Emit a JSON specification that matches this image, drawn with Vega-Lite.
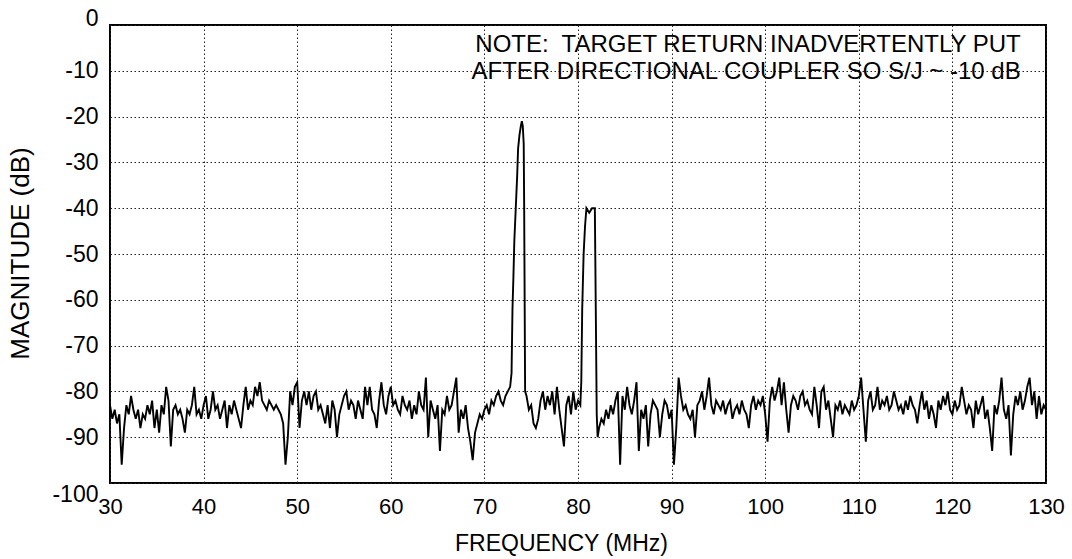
{
  "$schema": "https://vega.github.io/schema/vega-lite/v6.json",
  "width": 936,
  "height": 458,
  "autosize": {"type": "none"},
  "padding": {"left": 110, "top": 25, "right": 26, "bottom": 76},
  "background": "white",
  "config": {
    "view": {"stroke": "black", "strokeWidth": 2},
    "font": "Liberation Sans"
  },
  "datasets": {
    "spec": [
      {"f":30,"m":-83},{"f":30.25,"m":-86},{"f":30.5,"m":-84},{"f":30.75,"m":-87},
      {"f":31,"m":-85},{"f":31.25,"m":-96},{"f":31.5,"m":-88},{"f":31.75,"m":-83},
      {"f":32,"m":-85},{"f":32.25,"m":-81},{"f":32.5,"m":-84},{"f":32.75,"m":-86},
      {"f":33,"m":-84},{"f":33.25,"m":-88},{"f":33.5,"m":-85},{"f":33.75,"m":-86},
      {"f":34,"m":-83},{"f":34.25,"m":-85},{"f":34.5,"m":-82},{"f":34.75,"m":-88},
      {"f":35,"m":-84},{"f":35.25,"m":-89},{"f":35.5,"m":-83},{"f":35.75,"m":-85},
      {"f":36,"m":-79},{"f":36.25,"m":-82},{"f":36.5,"m":-92},{"f":36.75,"m":-84},
      {"f":37,"m":-83},{"f":37.25,"m":-85},{"f":37.5,"m":-84},{"f":37.75,"m":-86},
      {"f":38,"m":-89},{"f":38.25,"m":-84},{"f":38.5,"m":-85},{"f":38.75,"m":-83},
      {"f":39,"m":-79},{"f":39.25,"m":-85},{"f":39.5,"m":-84},{"f":39.75,"m":-86},
      {"f":40,"m":-83},{"f":40.25,"m":-81},{"f":40.5,"m":-86},{"f":40.75,"m":-84},
      {"f":41,"m":-80},{"f":41.25,"m":-84},{"f":41.5,"m":-83},{"f":41.75,"m":-86},
      {"f":42,"m":-84},{"f":42.25,"m":-82},{"f":42.5,"m":-88},{"f":42.75,"m":-83},
      {"f":43,"m":-85},{"f":43.25,"m":-82},{"f":43.5,"m":-84},{"f":43.75,"m":-86},
      {"f":44,"m":-88},{"f":44.25,"m":-83},{"f":44.5,"m":-79},{"f":44.75,"m":-84},
      {"f":45,"m":-82},{"f":45.25,"m":-83},{"f":45.5,"m":-79},{"f":45.75,"m":-81},
      {"f":46,"m":-78},{"f":46.25,"m":-82},{"f":46.5,"m":-83},{"f":46.75,"m":-84},
      {"f":47,"m":-82},{"f":47.25,"m":-83},{"f":47.5,"m":-84},{"f":47.75,"m":-83},
      {"f":48,"m":-84},{"f":48.25,"m":-85},{"f":48.5,"m":-87},{"f":48.75,"m":-96},
      {"f":49,"m":-90},{"f":49.25,"m":-80},{"f":49.5,"m":-83},{"f":49.75,"m":-79},
      {"f":50,"m":-78},{"f":50.25,"m":-88},{"f":50.5,"m":-82},{"f":50.75,"m":-80},
      {"f":51,"m":-83},{"f":51.25,"m":-80},{"f":51.5,"m":-84},{"f":51.75,"m":-81},
      {"f":52,"m":-80},{"f":52.25,"m":-84},{"f":52.5,"m":-83},{"f":52.75,"m":-85},
      {"f":53,"m":-87},{"f":53.25,"m":-83},{"f":53.5,"m":-88},{"f":53.75,"m":-82},
      {"f":54,"m":-84},{"f":54.25,"m":-90},{"f":54.5,"m":-85},{"f":54.75,"m":-83},
      {"f":55,"m":-81},{"f":55.25,"m":-80},{"f":55.5,"m":-84},{"f":55.75,"m":-82},
      {"f":56,"m":-83},{"f":56.25,"m":-86},{"f":56.5,"m":-82},{"f":56.75,"m":-84},
      {"f":57,"m":-86},{"f":57.25,"m":-79},{"f":57.5,"m":-83},{"f":57.75,"m":-79},
      {"f":58,"m":-84},{"f":58.25,"m":-85},{"f":58.5,"m":-88},{"f":58.75,"m":-82},
      {"f":59,"m":-78},{"f":59.25,"m":-83},{"f":59.5,"m":-85},{"f":59.75,"m":-81},
      {"f":60,"m":-79},{"f":60.25,"m":-83},{"f":60.5,"m":-82},{"f":60.75,"m":-84},
      {"f":61,"m":-85},{"f":61.25,"m":-81},{"f":61.5,"m":-83},{"f":61.75,"m":-84},
      {"f":62,"m":-82},{"f":62.25,"m":-86},{"f":62.5,"m":-83},{"f":62.75,"m":-85},
      {"f":63,"m":-80},{"f":63.25,"m":-83},{"f":63.5,"m":-84},{"f":63.75,"m":-77},
      {"f":64,"m":-90},{"f":64.25,"m":-82},{"f":64.5,"m":-84},{"f":64.75,"m":-86},
      {"f":65,"m":-83},{"f":65.25,"m":-93},{"f":65.5,"m":-84},{"f":65.75,"m":-85},
      {"f":66,"m":-81},{"f":66.25,"m":-84},{"f":66.5,"m":-83},{"f":66.75,"m":-80},
      {"f":67,"m":-77},{"f":67.25,"m":-89},{"f":67.5,"m":-84},{"f":67.75,"m":-86},
      {"f":68,"m":-83},{"f":68.25,"m":-88},{"f":68.5,"m":-91},{"f":68.75,"m":-95},
      {"f":69,"m":-89},{"f":69.25,"m":-87},{"f":69.5,"m":-85},{"f":69.75,"m":-86},
      {"f":70,"m":-84},{"f":70.25,"m":-83},{"f":70.5,"m":-85},{"f":70.75,"m":-82},
      {"f":71,"m":-83},{"f":71.25,"m":-81},{"f":71.5,"m":-80},{"f":71.75,"m":-82},
      {"f":72,"m":-83},{"f":72.25,"m":-81},{"f":72.5,"m":-80},{"f":72.75,"m":-79},
      {"f":72.9,"m":-76},{"f":73,"m":-62},{"f":73.1,"m":-55},{"f":73.2,"m":-47},
      {"f":73.35,"m":-40},{"f":73.5,"m":-33},{"f":73.6,"m":-27},{"f":73.75,"m":-24},
      {"f":73.9,"m":-22},{"f":74,"m":-21},{"f":74.1,"m":-22},{"f":74.2,"m":-26},
      {"f":74.25,"m":-40},{"f":74.3,"m":-60},{"f":74.35,"m":-80},{"f":74.5,"m":-81},
      {"f":74.75,"m":-84},
      {"f":75,"m":-83},{"f":75.25,"m":-87},{"f":75.5,"m":-88},{"f":75.75,"m":-86},
      {"f":76,"m":-82},{"f":76.25,"m":-80},{"f":76.5,"m":-84},{"f":76.75,"m":-81},
      {"f":77,"m":-83},{"f":77.25,"m":-80},{"f":77.5,"m":-85},{"f":77.75,"m":-79},
      {"f":78,"m":-84},{"f":78.25,"m":-88},{"f":78.5,"m":-92},{"f":78.75,"m":-83},
      {"f":79,"m":-81},{"f":79.25,"m":-85},{"f":79.5,"m":-80},{"f":79.75,"m":-84},
      {"f":80,"m":-82},{"f":80.25,"m":-83},{"f":80.35,"m":-78},{"f":80.45,"m":-62},
      {"f":80.6,"m":-50},{"f":80.75,"m":-44},{"f":80.9,"m":-40},{"f":81.2,"m":-41},
      {"f":81.5,"m":-40},{"f":81.8,"m":-40},{"f":81.9,"m":-62},{"f":82,"m":-85},
      {"f":82.1,"m":-90},{"f":82.25,"m":-88},{"f":82.5,"m":-86},{"f":82.75,"m":-87},
      {"f":83,"m":-84},{"f":83.25,"m":-86},{"f":83.5,"m":-83},{"f":83.75,"m":-85},
      {"f":84,"m":-82},{"f":84.25,"m":-80},{"f":84.5,"m":-96},{"f":84.75,"m":-81},
      {"f":85,"m":-84},{"f":85.25,"m":-79},{"f":85.5,"m":-83},{"f":85.75,"m":-85},
      {"f":86,"m":-82},{"f":86.25,"m":-78},{"f":86.5,"m":-93},{"f":86.75,"m":-84},
      {"f":87,"m":-86},{"f":87.25,"m":-83},{"f":87.5,"m":-92},{"f":87.75,"m":-85},
      {"f":88,"m":-82},{"f":88.25,"m":-83},{"f":88.5,"m":-84},{"f":88.75,"m":-90},
      {"f":89,"m":-85},{"f":89.25,"m":-82},{"f":89.5,"m":-83},{"f":89.75,"m":-86},
      {"f":90,"m":-84},{"f":90.25,"m":-96},{"f":90.5,"m":-88},{"f":90.75,"m":-77},
      {"f":91,"m":-81},{"f":91.25,"m":-84},{"f":91.5,"m":-83},{"f":91.75,"m":-85},
      {"f":92,"m":-86},{"f":92.25,"m":-84},{"f":92.5,"m":-90},{"f":92.75,"m":-83},
      {"f":93,"m":-82},{"f":93.25,"m":-80},{"f":93.5,"m":-84},{"f":93.75,"m":-81},
      {"f":94,"m":-77},{"f":94.25,"m":-83},{"f":94.5,"m":-85},{"f":94.75,"m":-82},
      {"f":95,"m":-83},{"f":95.25,"m":-84},{"f":95.5,"m":-82},{"f":95.75,"m":-85},
      {"f":96,"m":-83},{"f":96.25,"m":-82},{"f":96.5,"m":-86},{"f":96.75,"m":-84},
      {"f":97,"m":-83},{"f":97.25,"m":-85},{"f":97.5,"m":-82},{"f":97.75,"m":-84},
      {"f":98,"m":-85},{"f":98.25,"m":-88},{"f":98.5,"m":-83},{"f":98.75,"m":-81},
      {"f":99,"m":-84},{"f":99.25,"m":-82},{"f":99.5,"m":-83},{"f":99.75,"m":-81},
      {"f":100,"m":-85},{"f":100.25,"m":-91},{"f":100.5,"m":-82},{"f":100.75,"m":-79},
      {"f":101,"m":-82},{"f":101.25,"m":-80},{"f":101.5,"m":-77},{"f":101.75,"m":-83},
      {"f":102,"m":-78},{"f":102.25,"m":-84},{"f":102.5,"m":-89},{"f":102.75,"m":-83},
      {"f":103,"m":-81},{"f":103.25,"m":-82},{"f":103.5,"m":-84},{"f":103.75,"m":-81},
      {"f":104,"m":-80},{"f":104.25,"m":-83},{"f":104.5,"m":-82},{"f":104.75,"m":-84},
      {"f":105,"m":-85},{"f":105.25,"m":-79},{"f":105.5,"m":-83},{"f":105.75,"m":-88},
      {"f":106,"m":-80},{"f":106.25,"m":-79},{"f":106.5,"m":-84},{"f":106.75,"m":-82},
      {"f":107,"m":-86},{"f":107.25,"m":-90},{"f":107.5,"m":-83},{"f":107.75,"m":-84},
      {"f":108,"m":-82},{"f":108.25,"m":-85},{"f":108.5,"m":-83},{"f":108.75,"m":-84},
      {"f":109,"m":-85},{"f":109.25,"m":-82},{"f":109.5,"m":-84},{"f":109.75,"m":-83},
      {"f":110,"m":-81},{"f":110.25,"m":-77},{"f":110.5,"m":-84},{"f":110.75,"m":-91},
      {"f":111,"m":-82},{"f":111.25,"m":-80},{"f":111.5,"m":-84},{"f":111.75,"m":-83},
      {"f":112,"m":-79},{"f":112.25,"m":-84},{"f":112.5,"m":-82},{"f":112.75,"m":-83},
      {"f":113,"m":-81},{"f":113.25,"m":-84},{"f":113.5,"m":-83},{"f":113.75,"m":-80},
      {"f":114,"m":-82},{"f":114.25,"m":-84},{"f":114.5,"m":-83},{"f":114.75,"m":-85},
      {"f":115,"m":-82},{"f":115.25,"m":-84},{"f":115.5,"m":-81},{"f":115.75,"m":-83},
      {"f":116,"m":-84},{"f":116.25,"m":-87},{"f":116.5,"m":-83},{"f":116.75,"m":-80},
      {"f":117,"m":-84},{"f":117.25,"m":-82},{"f":117.5,"m":-86},{"f":117.75,"m":-83},
      {"f":118,"m":-85},{"f":118.25,"m":-88},{"f":118.5,"m":-82},{"f":118.75,"m":-84},
      {"f":119,"m":-81},{"f":119.25,"m":-83},{"f":119.5,"m":-80},{"f":119.75,"m":-84},
      {"f":120,"m":-85},{"f":120.25,"m":-82},{"f":120.5,"m":-84},{"f":120.75,"m":-83},
      {"f":121,"m":-79},{"f":121.25,"m":-82},{"f":121.5,"m":-85},{"f":121.75,"m":-83},
      {"f":122,"m":-84},{"f":122.25,"m":-88},{"f":122.5,"m":-82},{"f":122.75,"m":-85},
      {"f":123,"m":-83},{"f":123.25,"m":-81},{"f":123.5,"m":-86},{"f":123.75,"m":-84},
      {"f":124,"m":-88},{"f":124.25,"m":-93},{"f":124.5,"m":-83},{"f":124.75,"m":-85},
      {"f":125,"m":-82},{"f":125.25,"m":-77},{"f":125.5,"m":-84},{"f":125.75,"m":-86},
      {"f":126,"m":-83},{"f":126.25,"m":-94},{"f":126.5,"m":-85},{"f":126.75,"m":-81},
      {"f":127,"m":-83},{"f":127.25,"m":-80},{"f":127.5,"m":-84},{"f":127.75,"m":-82},
      {"f":128,"m":-79},{"f":128.25,"m":-77},{"f":128.5,"m":-83},{"f":128.75,"m":-80},
      {"f":129,"m":-86},{"f":129.25,"m":-81},{"f":129.5,"m":-85},{"f":129.75,"m":-83},
      {"f":130,"m":-84}
    ],
    "notes": [
      {"f":127.3,"m":-4.4,"t":"NOTE:\u00a0 TARGET RETURN INADVERTENTLY PUT"},
      {"f":127.3,"m":-10.2,"t":"AFTER DIRECTIONAL COUPLER SO S/J ~ -10 dB"}
    ]
  },
  "layer": [
    {
      "data": {"name": "spec"},
      "mark": {"type": "line", "color": "black", "strokeWidth": 1.9, "clip": true},
      "encoding": {
        "x": {
          "field": "f", "type": "quantitative",
          "scale": {"domain": [30, 130], "nice": false, "zero": false},
          "axis": {
            "title": "FREQUENCY (MHz)",
            "values": [30, 40, 50, 60, 70, 80, 90, 100, 110, 120, 130],
            "labelExpr": "'' + datum.value",
            "grid": true, "gridColor": "#222", "gridDash": [1.5, 2.5], "gridWidth": 1,
            "domain": false, "ticks": false, "tickSize": 0,
            "labelFontSize": 22, "labelColor": "black", "labelPadding": 13,
            "labelFont": "Liberation Sans", "labelFlush": false,
            "titleFontSize": 23, "titleFontWeight": "normal", "titleColor": "black",
            "titleFont": "Liberation Sans",
            "titleX": 451, "titleY": 49, "titleAlign": "center", "titleBaseline": "top"
          }
        },
        "y": {
          "field": "m", "type": "quantitative",
          "scale": {"domain": [-100, 0], "nice": false, "zero": false},
          "axis": {
            "title": "MAGNITUDE (dB)",
            "values": [0, -10, -20, -30, -40, -50, -60, -70, -80, -90, -100],
            "labelExpr": "'' + datum.value",
            "grid": true, "gridColor": "#222", "gridDash": [1.5, 2.5], "gridWidth": 1,
            "domain": false, "ticks": false, "tickSize": 0,
            "labelFontSize": 23, "labelColor": "black", "labelPadding": 12,
            "labelFont": "Liberation Sans", "labelFlush": false,
            "labelBaseline": {"condition": [{"test": "datum.value == 0", "value": "alphabetic"}, {"test": "datum.value == -100", "value": "top"}], "value": "middle"},
            "titleFontSize": 26, "titleFontWeight": "normal", "titleColor": "black",
            "titleFont": "Liberation Sans",
            "titleX": -90, "titleY": 228, "titleAlign": "center", "titleBaseline": "middle", "titleAngle": -90
          }
        }
      }
    },
    {
      "data": {"name": "notes"},
      "mark": {"type": "text", "align": "right", "baseline": "middle", "fontSize": 24, "font": "Liberation Sans", "color": "black"},
      "encoding": {
        "x": {"field": "f", "type": "quantitative"},
        "y": {"field": "m", "type": "quantitative"},
        "text": {"field": "t"}
      }
    }
  ]
}
